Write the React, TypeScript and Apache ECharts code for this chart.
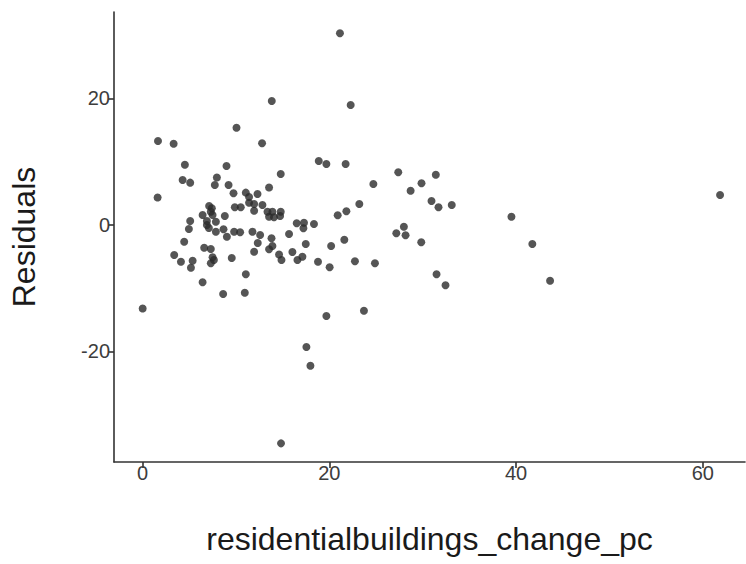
import React, { useEffect, useRef } from "react";
import * as echarts from "echarts";

const xValues: number[] = [
  0.0, 1.64, 1.6, 3.32, 3.38, 4.1, 4.28, 4.52, 4.45, 5.09,
  4.95, 5.09, 5.35, 5.17, 6.42, 6.59, 6.42, 6.88, 7.12, 7.41,
  7.3, 6.88, 7.09, 7.49, 7.3, 7.49, 7.63, 7.3, 7.73, 7.95,
  7.84, 7.84, 8.8, 8.66, 9.02, 8.98, 9.2, 8.62, 9.73, 9.87,
  10.51, 9.8, 10.44, 9.54, 10.05, 11.05, 11.4, 11.4, 11.05, 10.94,
  12.3, 11.94, 11.94, 11.76, 12.58, 12.33, 11.94, 12.83, 12.79, 13.37,
  13.9, 13.54, 14.07, 13.54, 13.8, 13.9, 13.54, 13.83, 14.79, 14.72,
  14.79, 14.61, 14.87, 14.82, 15.68, 16.04, 16.5, 16.58, 17.11, 17.28,
  17.22, 17.47, 17.54, 18.35, 18.78, 18.86, 17.97, 19.68, 19.68, 20.19,
  20.03, 20.89, 21.82, 21.6, 21.74, 21.13, 22.28, 22.74, 23.21, 23.7,
  24.71, 24.88, 27.38, 27.98, 27.17, 28.16, 28.7, 29.87, 29.84, 31.4,
  30.94, 31.69, 31.48, 33.11, 32.44, 39.5, 41.74, 43.64, 61.85,
];

const residuals: number[] = [
  -13.23, 13.25, 4.32, 12.82, -4.77, -5.83, 7.08, 9.5, -2.67, 6.66,
  -0.66, 0.6, -5.68, -6.78, 1.55, -3.62, -9.09, 0.6, 2.97, 2.61,
  2.07, -0.03, -0.51, 1.55, -3.83, -5.14, -5.57, -6.09, 6.29, 7.48,
  0.49, -1.09, 1.39, -0.71, -1.88, 9.3, 6.29, -10.94, 4.98, 2.77,
  2.77, -1.09, -1.19, -5.25, 15.35, 5.08, 4.4, 3.49, -7.83, -10.74,
  4.87, 3.29, 2.23, -1.09, -1.61, -2.88, -4.25, 3.13, 12.89, 2.07,
  2.07, 1.28, 1.19, 5.9, -2.13, -3.35, -3.87, 19.57, 2.07, 1.39,
  8.03, -4.7, -5.57, -34.55, -1.45, -4.3, 0.24, -5.57, -5.04, 0.33,
  -0.55, -3.04, -19.32, 0.13, -5.83, 10.09, -22.28, 9.61, -14.42, -3.35,
  -6.72, 1.5, 2.13, -2.36, 9.61, 30.28, 18.94, -5.77, 3.29, -13.58,
  6.45, -6.09, 8.3, -0.3, -1.34, -1.66, 5.39, 6.56, -2.77, 7.92,
  3.76, 2.77, -7.83, 3.13, -9.57, 1.28, -3.04, -8.84, 4.71,
];

const xTicks: number[] = [0, 20, 40, 60];
const yTicks: number[] = [-20, 0, 20];

const xTitle = "residentialbuildings_change_pc";
const yTitle = "Residuals";

export default function App() {
  const ref = useRef<HTMLDivElement>(null);

  useEffect(() => {
    if (!ref.current) return;
    const chart = echarts.init(ref.current, null, { renderer: "svg" });
    const data = xValues.map((x, i) => [x, residuals[i]]);
    const font = "'Liberation Sans', Arial, Helvetica, sans-serif";
    chart.setOption({
      animation: false,
      backgroundColor: "#ffffff",
      grid: { left: 113, right: 1, top: 12, bottom: 102, containLabel: false },
      xAxis: {
        type: "value",
        min: -3.07,
        max: 64.52,
        name: xTitle,
        nameLocation: "middle",
        nameGap: 61,
        nameTextStyle: { fontFamily: font, fontSize: 32, color: "#1a1a1a" },
        axisLine: { show: true, onZero: false, lineStyle: { color: "#333333", width: 1.6 } },
        axisTick: { show: true, length: 6, customValues: xTicks, lineStyle: { color: "#333333", width: 1.6 } },
        axisLabel: { customValues: xTicks, fontFamily: font, fontSize: 20, color: "#3d3d3d", margin: 1 },
        splitLine: { show: false },
      },
      yAxis: {
        type: "value",
        min: -37.5,
        max: 33.64,
        name: yTitle,
        nameLocation: "middle",
        nameGap: 74,
        nameTextStyle: { fontFamily: font, fontSize: 32, color: "#1a1a1a" },
        axisLine: { show: true, onZero: false, lineStyle: { color: "#333333", width: 1.6 } },
        axisTick: { show: true, length: 6, customValues: yTicks, lineStyle: { color: "#333333", width: 1.6 } },
        axisLabel: { customValues: yTicks, fontFamily: font, fontSize: 20, color: "#3d3d3d", margin: 4 },
        splitLine: { show: false },
      },
      series: [
        {
          type: "scatter",
          data,
          symbol: "circle",
          symbolSize: 8,
          itemStyle: { color: "#2b2b2b" },
        },
      ],
    });
    return () => chart.dispose();
  }, []);

  return (
    <div
      ref={ref}
      style={{ position: "absolute", left: 0, top: 0, width: 746, height: 564 }}
    />
  );
}
